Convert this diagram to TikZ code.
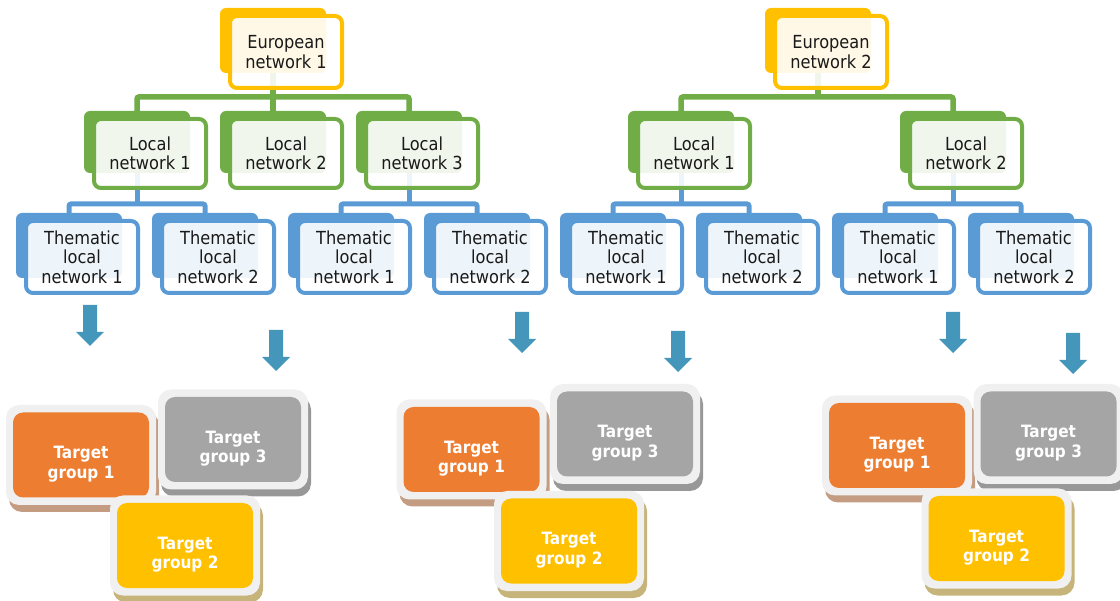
\documentclass[tikz,border=0pt]{standalone}
\usepackage{fontspec}
\setmainfont{DejaVu Sans}[FakeStretch=0.9]
\usetikzlibrary{shadows}
\definecolor{cY}{RGB}{255,192,0}
\definecolor{cG}{RGB}{112,173,71}
\definecolor{cB}{RGB}{91,155,213}
\definecolor{cO}{RGB}{237,125,49}
\definecolor{cGr}{RGB}{165,165,165}
\definecolor{cFr}{RGB}{240,240,240}
\definecolor{cArr}{RGB}{68,150,186}
\definecolor{shO}{RGB}{196,156,130}
\definecolor{shG}{RGB}{152,152,152}
\definecolor{shY}{RGB}{198,180,122}
\begin{document}
\begin{tikzpicture}[x=1pt,y=-1pt,
  backbox/.style={draw=none, fill=#1, rounded corners=6pt, minimum width=106pt, inner sep=0pt, outer sep=0pt},
  frontbox/.style={draw=#1, line width=4pt, fill=white, fill opacity=0.9, text opacity=1,
    rounded corners=7pt, minimum width=112pt, inner sep=0pt, outer sep=0pt, align=center,
    font=\fontsize{18}{19.5}\selectfont, text=black!90},
  tall/.style={minimum height=#1},
  gline/.style={draw=cG, line width=5.5pt, rounded corners=2pt},
  bline/.style={draw=cB, line width=5pt, rounded corners=2pt},
  tgframe/.style={fill=cFr, rounded corners=13pt, minimum width=150pt, minimum height=100pt, inner sep=0pt,
    drop shadow={shadow xshift=3pt, shadow yshift=-7pt, fill=#1, opacity=1}},
  tginner/.style={fill=#1, rounded corners=10pt, minimum width=136pt, minimum height=85pt, inner sep=0pt},
  tgtext/.style={text=white, align=center, font=\bfseries\fontsize{17}{19.5}\selectfont, inner sep=0pt, yshift=-9pt},
  barrow/.pic={\fill[cArr] (-7,0) -- (7,0) -- (7,27) -- (14,27) -- (0,41) -- (-14,27) -- (-7,27) -- cycle;}
]
\useasboundingbox (0,0) rectangle (1120,601);

% ---------- back shapes ----------
\node[backbox=cY, tall=65pt] (e1b) at (273,40.5) {};
\node[backbox=cY, tall=65pt] (e2b) at (818,40.5) {};
\foreach \n/\x in {l1/150,l2/286,l3/422,l4/694,l5/966}
  \node[backbox=cG, tall=62pt] (\n b) at (\x-13,142) {};
\foreach \n/\x in {t1/82,t2/218,t3/354,t4/490,t5/626,t6/762,t7/898,t8/1034}
  \node[backbox=cB, tall=65pt] (\n b) at (\x-13,245.5) {};

% ---------- connectors ----------
\draw[gline] (l1b.north) -- ++(0,-14) -| (l3b.north);
\draw[gline] (e1b.south) -- (l2b.north);
\draw[gline] (l4b.north) -- ++(0,-14) -| (l5b.north);
\draw[gline] (e2b.south) -- ++(0,24);
\draw[bline] (t1b.north) -- ++(0,-9) -| (t2b.north);
\draw[bline] (l1b.south) -- ++(0,31);
\draw[bline] (t3b.north) -- ++(0,-9) -| (t4b.north);
\draw[bline] (l3b.south) -- ++(0,31);
\draw[bline] (t5b.north) -- ++(0,-9) -| (t6b.north);
\draw[bline] (l4b.south) -- ++(0,31);
\draw[bline] (t7b.north) -- ++(0,-9) -| (t8b.north);
\draw[bline] (l5b.south) -- ++(0,31);

% ---------- front boxes ----------
\node[frontbox=cY, tall=72pt] (e1) at (286,52) {European\\network 1};
\node[frontbox=cY, tall=72pt] (e2) at (831,52) {European\\network 2};
\node[frontbox=cG, tall=69pt] (l1) at (150,153.5) {Local\\network 1};
\node[frontbox=cG, tall=69pt] (l2) at (286,153.5) {Local\\network 2};
\node[frontbox=cG, tall=69pt] (l3) at (422,153.5) {Local\\network 3};
\node[frontbox=cG, tall=69pt] (l4) at (694,153.5) {Local\\network 1};
\node[frontbox=cG, tall=69pt] (l5) at (966,153.5) {Local\\network 2};
\foreach \n/\x/\k in {t1/82/1,t2/218/2,t3/354/1,t4/490/2,t5/626/1,t6/762/2,t7/898/1,t8/1034/2}
  \node[frontbox=cB, tall=72pt] (\n) at (\x,257) {Thematic\\local\\network \k};

% ---------- arrows ----------
\pic at (90,305) {barrow};
\pic at (276,330) {barrow};
\pic at (522,312) {barrow};
\pic at (678,331) {barrow};
\pic at (953,312) {barrow};
\pic at (1073,333) {barrow};

% ---------- target groups, tree 1 ----------
\node[tgframe=shO] (a1f) at (81,455) {};
\node[tginner=cO] (a1) at (81,455) {};
\node[tgtext] (a1t) at (a1) {Target\\group 1};
\node[tgframe=shG] (a3f) at (233,439.5) {};
\node[tginner=cGr] (a3) at (233,439.5) {};
\node[tgtext] (a3t) at (a3) {Target\\group 3};
\node[tgframe=shY] (a2f) at (185,545.5) {};
\node[tginner=cY] (a2) at (185,545.5) {};
\node[tgtext] (a2t) at (a2) {Target\\group 2};

% ---------- target groups, tree 2 ----------
\node[tgframe=shO] (b1f) at (471.5,449.5) {};
\node[tginner=cO] (b1) at (471.5,449.5) {};
\node[tgtext] (b1t) at (b1) {Target\\group 1};
\node[tgframe=shG] (b3f) at (625,434) {};
\node[tginner=cGr] (b3) at (625,434) {};
\node[tgtext] (b3t) at (b3) {Target\\group 3};
\node[tgframe=shY] (b2f) at (569,541) {};
\node[tginner=cY] (b2) at (569,541) {};
\node[tgtext] (b2t) at (b2) {Target\\group 2};

% ---------- target groups, tree 3 ----------
\node[tgframe=shO] (c1f) at (897,445.5) {};
\node[tginner=cO] (c1) at (897,445.5) {};
\node[tgtext] (c1t) at (c1) {Target\\group 1};
\node[tgframe=shG] (c3f) at (1048.5,434) {};
\node[tginner=cGr] (c3) at (1048.5,434) {};
\node[tgtext] (c3t) at (c3) {Target\\group 3};
\node[tgframe=shY] (c2f) at (996.5,538.5) {};
\node[tginner=cY] (c2) at (996.5,538.5) {};
\node[tgtext] (c2t) at (c2) {Target\\group 2};
\end{tikzpicture}
\end{document}
